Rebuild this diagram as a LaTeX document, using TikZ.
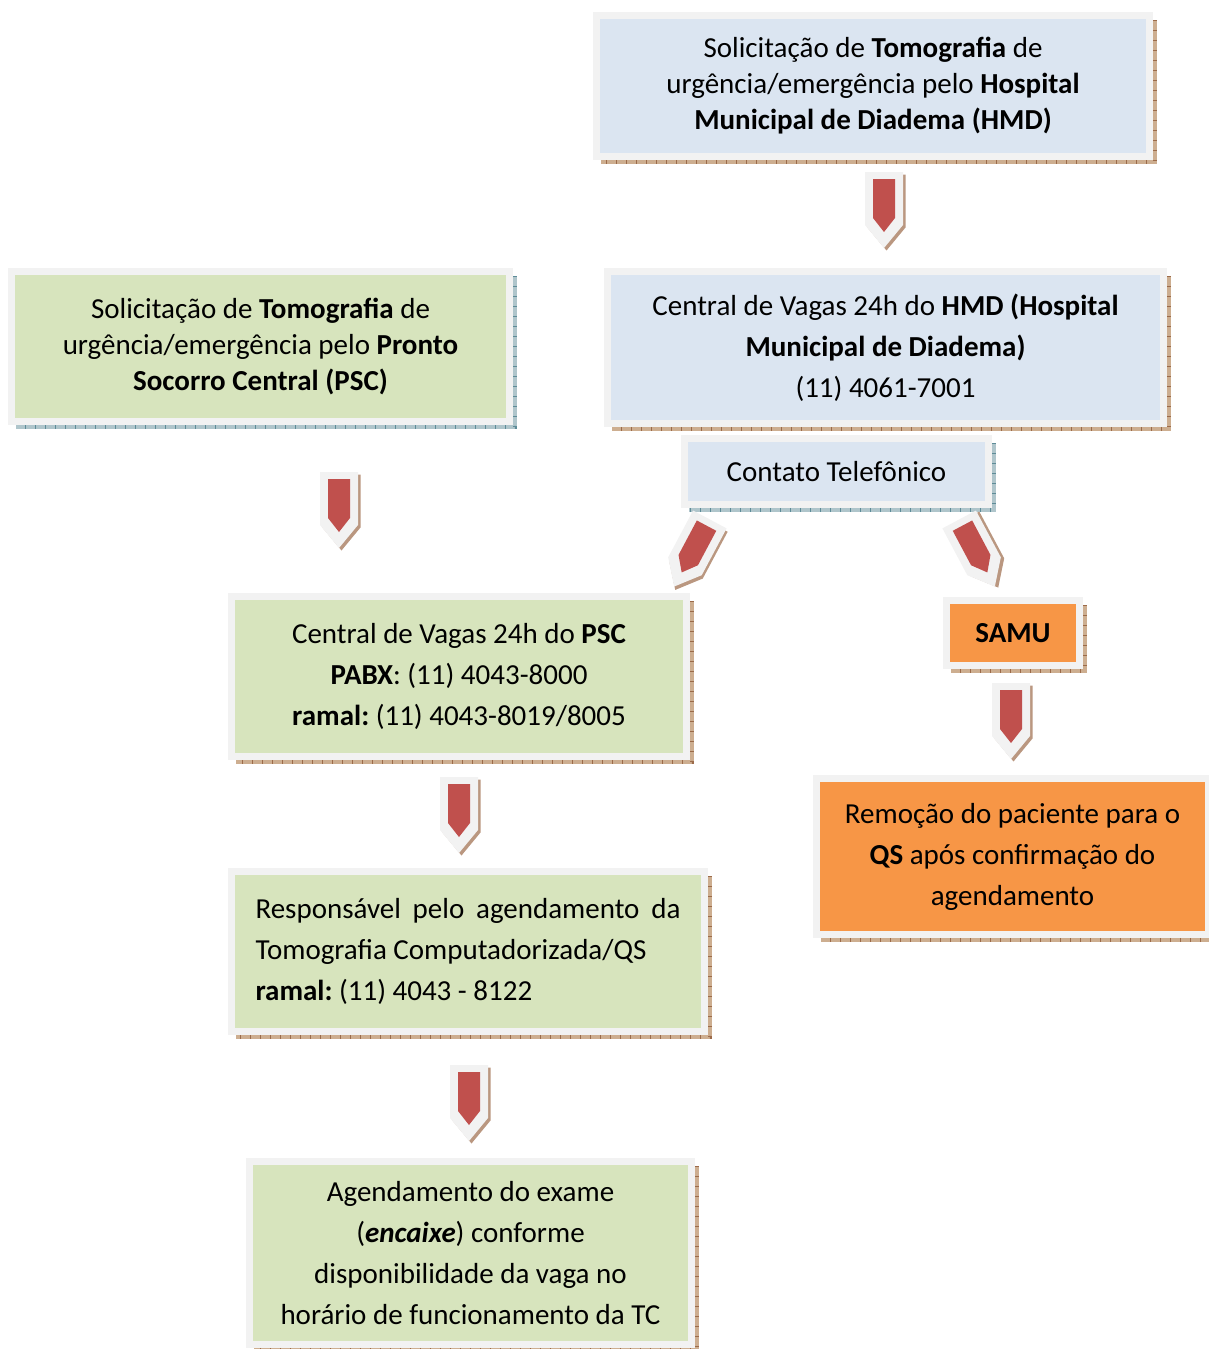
\documentclass[tikz,border=0pt]{standalone}
\usepackage{fontspec}
\setmainfont{Carlito}
\usetikzlibrary{calc, backgrounds}
\definecolor{framegray}{HTML}{F2F2F2}
\definecolor{fillblue}{HTML}{DBE5F1}
\definecolor{fillgreen}{HTML}{D7E4BD}
\definecolor{fillorange}{HTML}{F79646}
\definecolor{arrowred}{HTML}{C0504D}
\definecolor{shbrown}{HTML}{CDAE90}
\definecolor{tickbrown}{HTML}{9C6B4A}
\definecolor{shteal}{HTML}{AFC5CB}
\definecolor{tickteal}{HTML}{5E8C98}
\frenchspacing

% shadow strip on the right and bottom of a box
\newcommand{\boxshadow}[3]{%
	\draw[#2, line width=4pt] ([shift={(2pt,-8pt)}]#1.north east) -- ([shift={(2pt,-2pt)}]#1.south east) -- ([shift={(8pt,-2pt)}]#1.south west);
	\draw[#3, line width=4pt, dash pattern=on 1pt off 9pt] ([shift={(2pt,-8pt)}]#1.north east) -- ([shift={(2pt,-2pt)}]#1.south east) -- ([shift={(8pt,-2pt)}]#1.south west);
}

\tikzset{
	box/.style={draw=framegray, line width=7pt, inner sep=0pt, align=center, text=black, font=\fontsize{29}{41}\selectfont},
	tight/.style={font=\fontsize{29}{36}\selectfont},
	chevron/.pic={
		\fill[tickbrown!70, shift={(2.5,2.5)}] (-19,-38) -- (19,-38) -- (19,15) -- (0,38) -- (-19,15) -- cycle;
		\fill[framegray] (-19,-38) -- (19,-38) -- (19,15) -- (0,38) -- (-19,15) -- cycle;
		\fill[arrowred] (-11,-31) -- (11,-31) -- (11,8) -- (0,22) -- (-11,8) -- cycle;
	}
}

\begin{document}
\begin{tikzpicture}[x=1pt, y=-1pt]
	\useasboundingbox (0,0) rectangle (1208,1349);

	\node[box, tight, fill=fillblue, minimum width=553pt, minimum height=141pt] (hmd) at (873,86)
		{Solicitação de \textbf{Tomografia} de\\ urgência/emergência pelo \textbf{Hospital}\\ \textbf{Municipal de Diadema (HMD)}};
	\node[box, tight, fill=fillgreen, minimum width=498pt, minimum height=150pt] (psc) at (260.5,346.5)
		{Solicitação de \textbf{Tomografia} de\\ urgência/emergência pelo \textbf{Pronto}\\ \textbf{Socorro Central (PSC)}};
	\node[box, fill=fillblue, minimum width=556pt, minimum height=152pt] (cvhmd) at (885.5,347.5)
		{Central de Vagas 24h do \textbf{HMD (Hospital}\\ \textbf{Municipal de Diadema)}\\ (11) 4061-7001};
	\node[box, fill=fillblue, minimum width=304pt, minimum height=66pt] (tel) at (836.5,471.5)
		{Contato Telefônico};
	\node[box, fill=fillgreen, minimum width=455pt, minimum height=160pt] (cvpsc) at (459,676.5)
		{Central de Vagas 24h do \textbf{PSC}\\ \textbf{PABX}: (11) 4043-8000\\ \textbf{ramal:} (11) 4043-8019/8005};
	\node[box, fill=fillorange, minimum width=133pt, minimum height=65pt] (samu) at (1013,633)
		{\textbf{SAMU}};
	\node[box, fill=fillorange, minimum width=392pt, minimum height=156pt] (remocao) at (1012.5,856.5)
		{Remoção do paciente para o\\ \textbf{QS} após confirmação do\\ agendamento};
	\node[box, fill=fillgreen, minimum width=473pt, minimum height=160pt, align=left] (resp) at (468,951.5)
		{\hbox to 425pt{Responsável\hfill pelo\hfill agendamento\hfill da}\\ Tomografia Computadorizada/QS\\ \textbf{ramal:} (11) 4043 - 8122};
	\node[box, fill=fillgreen, minimum width=442pt, minimum height=183pt] (agenda) at (470.5,1253)
		{Agendamento do exame\\ (\textbf{\textit{encaixe}}) conforme\\ disponibilidade da vaga no\\ horário de funcionamento da TC};

	\begin{scope}[on background layer]
		\boxshadow{hmd}{shbrown}{tickbrown}
		\boxshadow{psc}{shteal}{tickteal}
		\boxshadow{cvhmd}{shbrown}{tickbrown}
		\boxshadow{tel}{shteal}{tickteal}
		\boxshadow{cvpsc}{shbrown}{tickbrown}
		\boxshadow{samu}{shbrown}{tickbrown}
		\boxshadow{remocao}{shbrown}{tickbrown}
		\boxshadow{resp}{shbrown}{tickbrown}
		\boxshadow{agenda}{shbrown}{tickbrown}
	\end{scope}

	% arrows between the boxes
	\pic at (884,210) {chevron};
	\pic at (339,510) {chevron};
	\pic[rotate=-28] at (692,553) {chevron};
	\pic[rotate=28] at (977,553) {chevron};
	\pic at (1011,721) {chevron};
	\pic at (459,815) {chevron};
	\pic at (469,1103) {chevron};

\end{tikzpicture}
\end{document}
